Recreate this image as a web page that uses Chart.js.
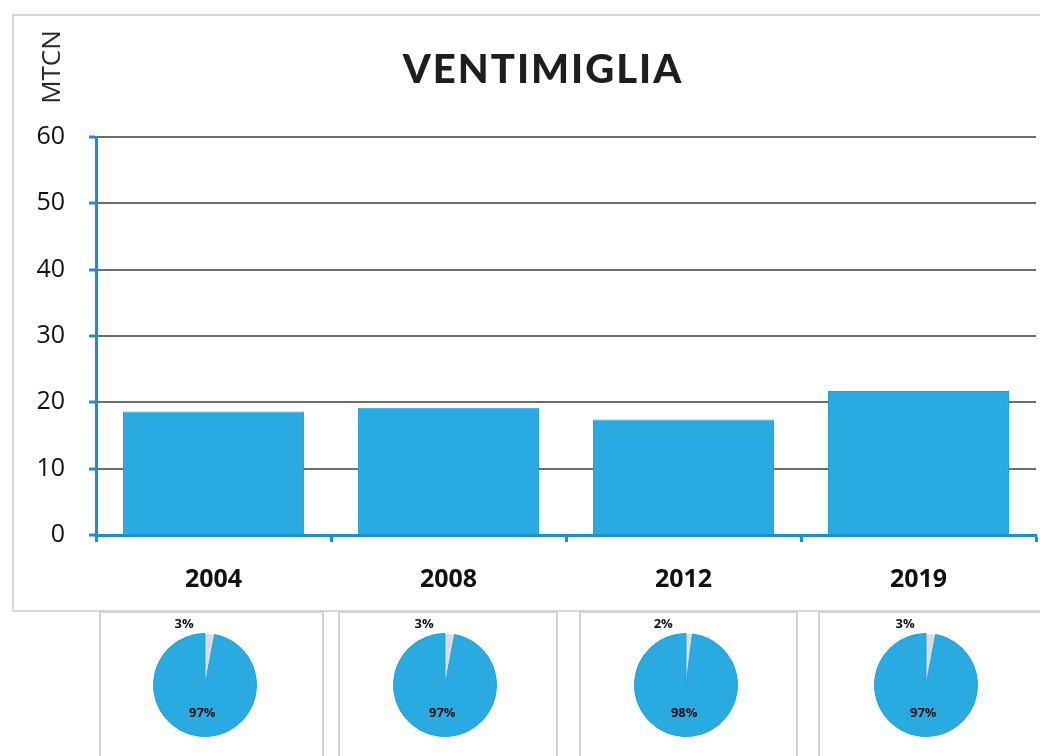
<!DOCTYPE html>
<html>
<head>
<meta charset="utf-8">
<script src="https://cdn.jsdelivr.net/npm/chart.js@4.5.0/dist/chart.umd.min.js"></script>
<style>
  html, body { margin: 0; padding: 0; background: #fff; }
  body { width: 1040px; height: 756px; position: relative; overflow: hidden; font-family: "Open Sans", sans-serif; }
  .frame { position: absolute; left: 12px; top: 14px; width: 1060px; height: 598px; border: 2px solid #d6d6d6; box-sizing: border-box; }
  #main { position: absolute; left: 0; top: 0; }
  .title { position: absolute; left: 0; width: 1086px; top: 44px; text-align: center; font-family: Lato, sans-serif; font-weight: 900; font-size: 40px; letter-spacing: 2px; color: #1e1e1e; }
  .unit { position: absolute; left: 31px; top: 52px; transform: rotate(-90deg); transform-origin: center; width: 90px; height: 30px; line-height: 30px; margin-left: -26px; text-align: center; font-size: 26px; color: #2a2a2a; }
  .box { position: absolute; top: 611px; height: 160px; border: 2px solid #d3d3d3; box-sizing: border-box; background: #fff; }
  .pie { position: absolute; }
</style>
</head>
<body>
<div class="frame"></div>
<canvas id="main" width="1040" height="612"></canvas>
<div class="title">VENTIMIGLIA</div>
<div class="unit">MTCN</div>

<div class="box" style="left:99px;width:225px"></div>
<div class="box" style="left:338px;width:220px"></div>
<div class="box" style="left:579px;width:219px"></div>
<div class="box" style="left:818px;width:240px"></div>

<canvas class="pie" id="pie0" width="150" height="150" style="left:130px;top:611px"></canvas>
<canvas class="pie" id="pie1" width="150" height="150" style="left:370px;top:611px"></canvas>
<canvas class="pie" id="pie2" width="150" height="150" style="left:611px;top:611px"></canvas>
<canvas class="pie" id="pie3" width="150" height="150" style="left:851px;top:611px"></canvas>

<script>
const years = ["2004", "2008", "2012", "2019"]
const totals = [18.6, 19.2, 17.4, 21.7]
const yTicks = [0, 10, 20, 30, 40, 50, 60]
const smallShare = [3, 3, 2, 3]
const mainShare = [97, 97, 98, 97]

const blue = "#29abe2"
const axisBlue = "#1b8fd2"

new Chart(document.getElementById("main"), {
  type: "bar",
  data: {
    labels: years,
    datasets: [{
      data: totals,
      backgroundColor: blue,
      borderColor: "#1fa0da",
      borderWidth: 1,
      categoryPercentage: 1,
      barPercentage: 0.77
    }]
  },
  options: {
    responsive: false,
    animation: false,
    layout: { padding: { top: 137, right: 4, left: 0, bottom: 0 } },
    plugins: { legend: { display: false }, tooltip: { enabled: false } },
    scales: {
      x: {
        afterFit: (scale) => { scale.height = 77 },
        grid: { display: true, drawOnChartArea: false, tickColor: axisBlue, tickLength: 7, tickWidth: 3, offset: true },
        border: { color: axisBlue, width: 3 },
        ticks: { color: "#111", padding: 23, font: { family: "Open Sans", size: 25, weight: "bold" } }
      },
      y: {
        min: 0,
        max: 60,
        afterFit: (scale) => { scale.width = 96 },
        afterBuildTicks: (scale) => { scale.ticks = yTicks.map(v => ({ value: v })) },
        grid: { color: "#6e6e6e", lineWidth: 2, tickColor: axisBlue, tickLength: 7, tickWidth: 3 },
        border: { color: axisBlue, width: 3 },
        ticks: { color: "#111", padding: 24, font: { family: "Open Sans", size: 25, weight: "500" } }
      }
    }
  }
})

const pieLabels = {
  id: "pieLabels",
  afterDatasetsDraw(chart) {
    const ctx = chart.ctx
    const arcs = chart.getDatasetMeta(0).data
    const values = chart.data.datasets[0].data
    ctx.save()
    ctx.fillStyle = "#111"
    ctx.font = "bold 13px 'Open Sans'"
    ctx.textBaseline = "middle"
    arcs.forEach((arc, i) => {
      const p = arc.getProps(["x", "y", "startAngle", "endAngle", "outerRadius"], true)
      const mid = (p.startAngle + p.endAngle) / 2
      if (i === 0) {
        const r = p.outerRadius + 9
        ctx.textAlign = "right"
        ctx.fillText(values[i] + "%", p.x + Math.cos(mid) * r - 17, p.y + Math.sin(mid) * r)
      } else {
        const r = p.outerRadius * 0.56
        ctx.textAlign = "center"
        ctx.fillText(values[i] + "%", p.x + Math.cos(mid) * r, p.y + Math.sin(mid) * r)
      }
    })
    ctx.restore()
  }
}

years.forEach((y, i) => {
  new Chart(document.getElementById("pie" + i), {
    type: "pie",
    data: {
      labels: ["other", "main"],
      datasets: [{
        data: [smallShare[i], mainShare[i]],
        backgroundColor: ["#dcdcdc", blue],
        borderColor: ["#ffffff", "#1f9fd8"],
        borderWidth: 1
      }]
    },
    options: {
      responsive: false,
      animation: false,
      layout: { padding: { top: 22, bottom: 24, left: 23, right: 23 } },
      plugins: { legend: { display: false }, tooltip: { enabled: false } }
    },
    plugins: [pieLabels]
  })
})
</script>
</body>
</html>
